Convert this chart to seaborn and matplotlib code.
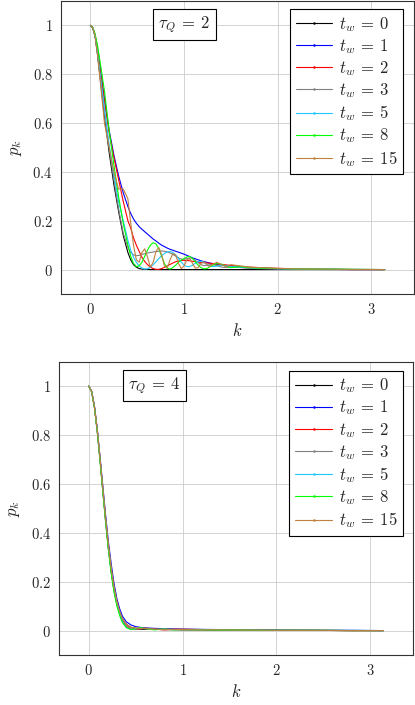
import numpy as np
import pandas as pd
import matplotlib
matplotlib.use("Agg")
import matplotlib.pyplot as plt
from matplotlib.lines import Line2D
from matplotlib.ticker import FuncFormatter
import seaborn as sns

sns.set_theme(style="whitegrid")
plt.rcParams['font.family'] = ['DejaVu Serif']
plt.rcParams['mathtext.fontset'] = 'cm'

tw_labels = [r'$t_w\:=\:0$', r'$t_w\:=\:1$', r'$t_w\:=\:2$', r'$t_w\:=\:3$',
             r'$t_w\:=\:5$', r'$t_w\:=\:8$', r'$t_w\:=\:15$']
colors = ['#000000', '#0000ff', '#ff0000', '#808080', '#1ec8ff', '#00ff00', '#bf8040']

# ---- tau_Q = 2 (top panel) ----
k_top = [0.0, 0.025, 0.05, 0.075, 0.1, 0.15, 0.2, 0.25, 0.3, 0.35, 0.4,
         0.43, 0.46, 0.49, 0.52, 0.55, 0.58, 0.61, 0.64, 0.67, 0.7,
         0.73, 0.76, 0.79, 0.82, 0.85, 0.88, 0.91, 0.94, 0.97, 1.0,
         1.03, 1.06, 1.09, 1.12, 1.15, 1.18, 1.21, 1.24, 1.27, 1.3,
         1.35, 1.4, 1.45, 1.5, 1.6, 1.7, 1.8, 2.0, 2.2, 2.5, 2.8, 3.1416]

p2_tw0 = [1.0, 0.99, 0.955, 0.885, 0.8, 0.63, 0.48, 0.35, 0.24, 0.14, 0.07,
          0.04, 0.02, 0.01, 0.004, 0.002, 0.001, 0.001, 0.0, 0.0, 0.0,
          0.0, 0.0, 0.0, 0.0, 0.0, 0.0, 0.0, 0.0, 0.0, 0.0,
          0.0, 0.0, 0.0, 0.0, 0.0, 0.0, 0.0, 0.0, 0.0, 0.0,
          0.0, 0.0, 0.0, 0.0, 0.0, 0.0, 0.0, 0.0, 0.0, 0.0, 0.0, 0.0]
p2_tw1 = [1.0, 0.99, 0.96, 0.905, 0.84, 0.7, 0.57, 0.47, 0.385, 0.315, 0.258,
          0.23, 0.207, 0.19, 0.176, 0.165, 0.155, 0.145, 0.135, 0.125, 0.117,
          0.108, 0.1, 0.094, 0.088, 0.083, 0.079, 0.075, 0.071, 0.067, 0.063,
          0.058, 0.053, 0.048, 0.044, 0.04, 0.036, 0.033, 0.03, 0.027, 0.025,
          0.021, 0.018, 0.015, 0.013, 0.009, 0.007, 0.005, 0.003, 0.002, 0.001, 0.0, 0.0]
p2_tw2 = [1.0, 0.99, 0.96, 0.9, 0.83, 0.69, 0.56, 0.46, 0.37, 0.28, 0.2,
          0.17, 0.13, 0.1, 0.075, 0.05, 0.033, 0.02, 0.01, 0.004, 0.001,
          0.001, 0.004, 0.009, 0.015, 0.021, 0.027, 0.032, 0.035, 0.037, 0.038,
          0.037, 0.036, 0.034, 0.032, 0.03, 0.029, 0.028, 0.027, 0.026, 0.025,
          0.023, 0.021, 0.019, 0.017, 0.013, 0.01, 0.008, 0.005, 0.003, 0.001, 0.0, 0.0]
p2_tw3 = [1.0, 0.99, 0.955, 0.885, 0.8, 0.64, 0.5, 0.37, 0.25, 0.15, 0.09,
          0.07, 0.06, 0.057, 0.058, 0.062, 0.065, 0.068, 0.07, 0.072, 0.074,
          0.075, 0.076, 0.075, 0.072, 0.068, 0.062, 0.055, 0.048, 0.043, 0.042,
          0.045, 0.048, 0.045, 0.037, 0.028, 0.02, 0.016, 0.017, 0.02, 0.021,
          0.016, 0.01, 0.009, 0.011, 0.008, 0.005, 0.004, 0.002, 0.001, 0.0, 0.0, 0.0]
p2_tw5 = [1.0, 0.99, 0.955, 0.89, 0.81, 0.66, 0.51, 0.39, 0.28, 0.2, 0.12,
          0.08, 0.05, 0.03, 0.015, 0.006, 0.002, 0.003, 0.01, 0.02, 0.032,
          0.045, 0.057, 0.066, 0.072, 0.074, 0.07, 0.06, 0.045, 0.03, 0.018,
          0.012, 0.012, 0.018, 0.026, 0.032, 0.034, 0.03, 0.022, 0.015, 0.012,
          0.014, 0.018, 0.016, 0.012, 0.01, 0.008, 0.006, 0.004, 0.003, 0.002, 0.001, 0.0]
p2_tw8 = [1.0, 0.992, 0.965, 0.92, 0.86, 0.73, 0.57, 0.43, 0.3, 0.19, 0.1,
          0.055, 0.025, 0.012, 0.015, 0.03, 0.055, 0.08, 0.1, 0.11, 0.105,
          0.085, 0.055, 0.025, 0.006, 0.002, 0.008, 0.018, 0.03, 0.039, 0.045,
          0.052, 0.054, 0.046, 0.032, 0.018, 0.008, 0.003, 0.004, 0.01, 0.017,
          0.025, 0.022, 0.013, 0.008, 0.012, 0.008, 0.006, 0.004, 0.003, 0.002, 0.001, 0.0]
p2_tw15 = [1.0, 0.99, 0.955, 0.88, 0.79, 0.6, 0.5, 0.4, 0.33, 0.33, 0.29,
           0.19, 0.1, 0.04, 0.03, 0.07, 0.085, 0.05, 0.01, 0.03, 0.075,
           0.09, 0.06, 0.015, 0.005, 0.04, 0.065, 0.06, 0.025, 0.004, 0.015,
           0.04, 0.045, 0.025, 0.006, 0.008, 0.025, 0.032, 0.022, 0.012, 0.02,
           0.03, 0.02, 0.012, 0.02, 0.015, 0.01, 0.008, 0.005, 0.003, 0.002, 0.001, 0.0]

# ---- tau_Q = 4 (bottom panel) ----
k_bot = [0.0, 0.03, 0.06, 0.09, 0.12, 0.15, 0.18, 0.21, 0.24, 0.27, 0.3, 0.33, 0.36,
         0.4, 0.45, 0.5, 0.55, 0.6, 0.7, 0.8, 0.9, 1.0,
         1.2, 1.4, 1.6, 1.8, 2.0, 2.4, 2.8, 3.1416]

p4_tw0 = [1.0, 0.978, 0.914, 0.817, 0.698, 0.57, 0.445, 0.332, 0.237, 0.162, 0.108, 0.07, 0.045,
          0.025, 0.013, 0.008, 0.006, 0.005, 0.005, 0.004, 0.004, 0.003,
          0.003, 0.002, 0.002, 0.002, 0.001, 0.001, 0.0, 0.0]
p4_tw1 = [1.0, 0.98, 0.92, 0.826, 0.71, 0.59, 0.47, 0.36, 0.27, 0.19, 0.13, 0.088, 0.058,
          0.036, 0.023, 0.016, 0.013, 0.011, 0.009, 0.008, 0.007, 0.006,
          0.005, 0.004, 0.003, 0.003, 0.002, 0.001, 0.001, 0.0]
p4_tw2 = [1.0, 0.978, 0.916, 0.82, 0.702, 0.575, 0.452, 0.34, 0.245, 0.17, 0.112, 0.07, 0.04,
          0.018, 0.006, 0.004, 0.008, 0.01, 0.006, 0.003, 0.005, 0.006,
          0.004, 0.002, 0.003, 0.002, 0.001, 0.001, 0.0, 0.0]
p4_tw3 = [1.0, 0.979, 0.917, 0.822, 0.705, 0.58, 0.458, 0.346, 0.252, 0.176, 0.118, 0.076, 0.047,
          0.025, 0.012, 0.01, 0.01, 0.008, 0.005, 0.006, 0.004, 0.004,
          0.003, 0.003, 0.002, 0.002, 0.001, 0.001, 0.0, 0.0]
p4_tw5 = [1.0, 0.978, 0.914, 0.818, 0.7, 0.573, 0.448, 0.335, 0.24, 0.165, 0.108, 0.066, 0.036,
          0.014, 0.004, 0.006, 0.01, 0.009, 0.004, 0.006, 0.004, 0.005,
          0.004, 0.003, 0.002, 0.002, 0.001, 0.001, 0.001, 0.0]
p4_tw8 = [1.0, 0.977, 0.912, 0.814, 0.694, 0.565, 0.44, 0.326, 0.23, 0.155, 0.1, 0.06, 0.032,
          0.012, 0.004, 0.008, 0.012, 0.008, 0.003, 0.006, 0.003, 0.004,
          0.003, 0.002, 0.002, 0.001, 0.001, 0.001, 0.0, 0.0]
p4_tw15 = [1.0, 0.978, 0.915, 0.82, 0.703, 0.577, 0.455, 0.344, 0.25, 0.175, 0.118, 0.077, 0.048,
           0.026, 0.014, 0.01, 0.009, 0.008, 0.006, 0.005, 0.005, 0.004,
           0.003, 0.003, 0.002, 0.002, 0.001, 0.001, 0.0, 0.0]

top_curves = [p2_tw0, p2_tw1, p2_tw2, p2_tw3, p2_tw5, p2_tw8, p2_tw15]
bot_curves = [p4_tw0, p4_tw1, p4_tw2, p4_tw3, p4_tw5, p4_tw8, p4_tw15]


def draw_panel(ax, k, curves, tau_text, tau_xy, leg_anchor):
    handles = []
    for lab, vals, col in zip(tw_labels, curves, colors):
        df = pd.DataFrame({'k': k, 'p': vals})
        sns.lineplot(data=df, x='k', y='p', ax=ax, color=col, lw=0.8,
                     sort=False, estimator=None, legend=False)
        # pgfplots-like legend entry: thin line with a small dot in the middle
        handles.append(Line2D([], [], color=col, lw=0.8, marker='o',
                              markersize=1.8, markeredgewidth=0, label=lab))
    ax.set_xlim(-0.314, 3.456)
    ax.set_ylim(-0.1, 1.1)
    ax.set_xticks([0, 1, 2, 3])
    ax.set_yticks([0, 0.2, 0.4, 0.6, 0.8, 1.0])
    fmt = FuncFormatter(lambda v, _: f'${v:g}$')
    ax.xaxis.set_major_formatter(fmt)
    ax.yaxis.set_major_formatter(fmt)
    ax.tick_params(labelsize=10.5, length=0, pad=6)
    ax.grid(True, color='#cccccc', lw=0.6)
    for s in ax.spines.values():
        s.set_color('#333333')
        s.set_linewidth(0.8)
    ax.set_xlabel('$k$', fontsize=12, labelpad=4)
    ax.set_ylabel('$p_k$', fontsize=12, labelpad=6)
    ax.text(tau_xy[0], tau_xy[1], tau_text, transform=ax.transAxes,
            ha='center', va='center', fontsize=12,
            bbox=dict(boxstyle='square,pad=0.3', fc='white', ec='black', lw=0.8))
    leg = ax.legend(handles=handles, loc='upper right', bbox_to_anchor=leg_anchor,
                    borderaxespad=0, fancybox=False, edgecolor='black',
                    framealpha=1, fontsize=12, handlelength=2.2,
                    labelspacing=0.2, borderpad=0.35, handletextpad=0.4,
                    numpoints=1)
    leg.get_frame().set_linewidth(0.8)


fig = plt.figure(figsize=(4.15, 7.05), dpi=100)
ax1 = fig.add_axes([0.147, 0.583, 0.851, 0.4156])
ax2 = fig.add_axes([0.143, 0.0709, 0.852, 0.416])

draw_panel(ax1, k_top, top_curves, r'$\tau_Q\:=\:2$', (0.35, 0.92), (0.969, 0.973))
draw_panel(ax2, k_bot, bot_curves, r'$\tau_Q\:=\:4$', (0.27, 0.918), (0.972, 0.97))

fig.savefig('out.png', dpi=100)
